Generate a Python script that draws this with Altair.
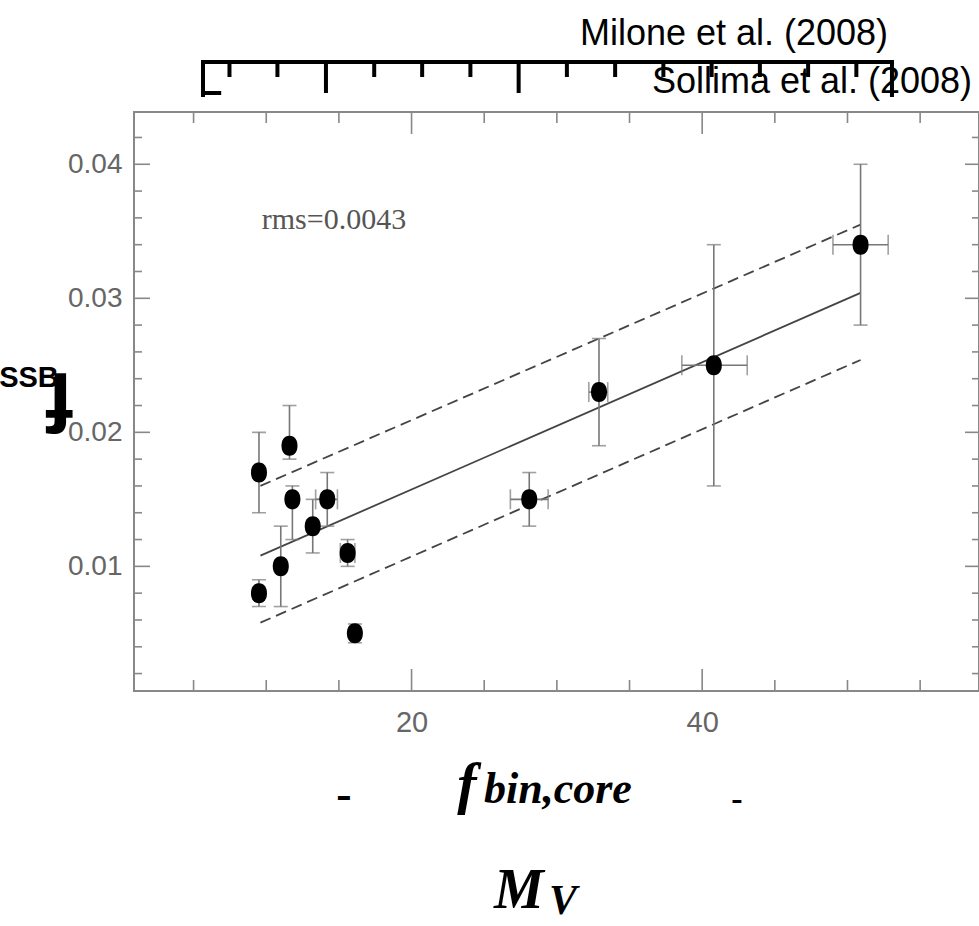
import altair as alt
import pandas as pd

# ---------------- data ----------------
x_vals = [9.5, 11.6, 11.8, 14.2, 13.2, 11.0, 9.5, 15.6, 16.1, 28.1, 32.9, 40.8, 50.9]
y_vals = [0.017, 0.019, 0.015, 0.015, 0.013, 0.010, 0.008, 0.011, 0.005, 0.015, 0.023, 0.025, 0.034]
y_lo = [0.014, 0.018, 0.012, 0.013, 0.011, 0.007, 0.007, 0.010, 0.0043, 0.013, 0.019, 0.016, 0.028]
y_hi = [0.020, 0.022, 0.016, 0.017, 0.015, 0.013, 0.009, 0.012, 0.0057, 0.017, 0.027, 0.034, 0.040]
x_lo = [9.5, 11.6, 11.8, 13.4, 13.2, 11.0, 9.5, 15.1, 16.1, 26.8, 32.2, 38.6, 49.0]
x_hi = [9.5, 11.6, 11.8, 14.9, 13.2, 11.0, 9.5, 16.1, 16.1, 29.4, 33.5, 43.1, 52.8]

fit_x = [9.6, 50.9]
fit_mid = [0.0108, 0.0304]
fit_up = [0.0160, 0.0355]
fit_low = [0.0058, 0.0254]

x_major = [20, 40]
x_minor = [5, 10, 15, 25, 30, 35, 45, 50, 55]
y_major = [0.01, 0.02, 0.03, 0.04]
y_minor = [0.002, 0.004, 0.006, 0.008, 0.012, 0.014, 0.016, 0.018, 0.022, 0.024,
           0.026, 0.028, 0.032, 0.034, 0.036, 0.038, 0.042]

# decorative magnitude bracket above the plot (positions on the same horizontal scale)
bracket_ends = [5.65, 53.06]
bracket_short = [7.47, 10.77, 17.43, 20.73, 24.05, 30.69, 34.01, 37.33, 40.65,
                 43.97, 47.29, 50.61]
bracket_long = [14.11, 27.37]

rms_text = ["rms=0.0043"]
ref_top = ["Milone et al. (2008)"]
ref_bottom = ["Sollima et al. (2008)"]

W, H = 845, 579
XDOM = [0.9, 59.05]
YDOM = [0.0007, 0.0439]
LABEL_FONT = "Liberation Sans Narrow, Liberation Sans, Arial"
SERIF_BI = "Liberation Serif"

pts = pd.DataFrame({"x": x_vals, "y": y_vals, "ylo": y_lo, "yhi": y_hi,
                    "xlo": x_lo, "xhi": x_hi})
xerr = pts[pts["xlo"] != pts["xhi"]]

xs = alt.Scale(domain=XDOM, nice=False, zero=False)
ys = alt.Scale(domain=YDOM, nice=False, zero=False)

xax = alt.Axis(values=x_major, format="d", labelFont=LABEL_FONT, labelFontSize=29,
               labelColor="#666", ticks=False, domain=False, grid=False,
               title=None, labelPadding=17)
yax = alt.Axis(values=y_major, format=".2f", labelFont=LABEL_FONT, labelFontSize=28,
               labelColor="#666", ticks=False, domain=False, grid=False,
               title=None, labelPadding=12)

ERR = "#777"
base = alt.Chart(pts)

points = base.mark_point(
    shape="M0,-1C0.55,-1,0.8,-0.55,0.8,0C0.8,0.55,0.55,1,0,1C-0.55,1,-0.8,0.55,-0.8,0C-0.8,-0.55,-0.55,-1,0,-1Z",
    size=400, filled=True, color="black", opacity=1
).encode(x=alt.X("x:Q", scale=xs, axis=xax), y=alt.Y("y:Q", scale=ys, axis=yax))

ybar = base.mark_rule(color=ERR, strokeWidth=1.6).encode(
    x=alt.X("x:Q", scale=xs), y=alt.Y("ylo:Q", scale=ys), y2="yhi:Q")
ycap_lo = base.mark_tick(orient="horizontal", size=14, thickness=1.6, color=ERR).encode(
    x=alt.X("x:Q", scale=xs), y=alt.Y("ylo:Q", scale=ys))
ycap_hi = base.mark_tick(orient="horizontal", size=14, thickness=1.6, color=ERR).encode(
    x=alt.X("x:Q", scale=xs), y=alt.Y("yhi:Q", scale=ys))

xe = alt.Chart(xerr)
xbar = xe.mark_rule(color=ERR, strokeWidth=1.6).encode(
    x=alt.X("xlo:Q", scale=xs), x2="xhi:Q", y=alt.Y("y:Q", scale=ys))
xcap_lo = xe.mark_tick(orient="vertical", size=20, thickness=1.6, color=ERR).encode(
    x=alt.X("xlo:Q", scale=xs), y=alt.Y("y:Q", scale=ys))
xcap_hi = xe.mark_tick(orient="vertical", size=20, thickness=1.6, color=ERR).encode(
    x=alt.X("xhi:Q", scale=xs), y=alt.Y("y:Q", scale=ys))

def fitline(yvals, dash):
    df = pd.DataFrame({"x": fit_x, "y": yvals})
    kw = dict(color="#444", strokeWidth=1.8)
    if dash:
        kw["strokeDash"] = [11, 6]
    return alt.Chart(df).mark_line(**kw).encode(
        x=alt.X("x:Q", scale=xs), y=alt.Y("y:Q", scale=ys))

mid = fitline(fit_mid, False)
up = fitline(fit_up, True)
low = fitline(fit_low, True)

# inward ticks on all four sides
TC = "#888"
def ytick(vals, length, right):
    df = pd.DataFrame({"v": vals})
    if right:
        enc = dict(x=alt.value(W), x2=alt.value(W - length))
    else:
        enc = dict(x=alt.value(0), x2=alt.value(length))
    return alt.Chart(df).mark_rule(color=TC, strokeWidth=1.6).encode(
        y=alt.Y("v:Q", scale=ys), **enc)

def xtick(vals, length, top):
    df = pd.DataFrame({"v": vals})
    if top:
        enc = dict(y=alt.value(0), y2=alt.value(length))
    else:
        enc = dict(y=alt.value(H), y2=alt.value(H - length))
    return alt.Chart(df).mark_rule(color=TC, strokeWidth=1.6).encode(
        x=alt.X("v:Q", scale=xs), **enc)

ticks = [ytick(y_major, 16, False), ytick(y_minor, 8, False),
         ytick(y_major, 14, True), ytick(y_minor, 7, True),
         xtick(x_major, 22, False), xtick(x_minor, 11, False),
         xtick(x_major, 22, True), xtick(x_minor, 11, True)]

# bracket above the plot
BY = -50
bar = alt.Chart(pd.DataFrame({"a": [bracket_ends[0]], "b": [bracket_ends[1]]})).mark_rule(
    color="black", strokeWidth=4, strokeCap="square").encode(
    x=alt.X("a:Q", scale=xs), x2="b:Q", y=alt.value(BY))
def btick(vals, length):
    return alt.Chart(pd.DataFrame({"v": vals})).mark_rule(color="black", strokeWidth=4).encode(
        x=alt.X("v:Q", scale=xs), y=alt.value(BY), y2=alt.value(BY + length))
b_short = btick(bracket_short, 15)
b_long = btick(bracket_long, 31)
b_ends = btick(bracket_ends, 35)
foot = alt.Chart(pd.DataFrame({"a": [bracket_ends[0]], "b": [6.9]})).mark_rule(
    color="black", strokeWidth=4).encode(x=alt.X("a:Q", scale=xs), x2="b:Q", y=alt.value(BY + 31))

def label(text, x, y, **kw):
    return alt.Chart(pd.DataFrame({"t": text})).mark_text(**kw).encode(
        x=alt.value(x), y=alt.value(y), text="t:N")

t_rms = label(rms_text, 200, 108, font="Liberation Serif", fontSize=30, color="#555",
              align="center", baseline="middle")
t_mil = label(ref_top, 600, -78, font="Liberation Sans, Arial", fontSize=36, color="black",
              align="center", baseline="middle")
t_sol = label(ref_bottom, 678, -30, font="Liberation Sans, Arial", fontSize=36, color="black",
              align="center", baseline="middle")

t_ssb = label(["SSB"], -105, 275, font=LABEL_FONT, fontSize=29, fontWeight="bold",
              color="black", align="center", baseline="alphabetic")
t_f = label(["f"], -74, 286, font=LABEL_FONT, fontSize=84, fontWeight="bold",
            color="black", align="center", baseline="middle", angle=180)

t_fx = label(["f"], 333, 691, font=SERIF_BI, fontSize=58, fontWeight="bold",
             fontStyle="italic", color="black", align="center", baseline="alphabetic")
t_bin = label(["bin,core"], 350, 691, font=SERIF_BI, fontSize=44, fontWeight="bold",
              fontStyle="italic", color="black", align="left", baseline="alphabetic")
t_d1 = label(["-"], 210, 697, font=SERIF_BI, fontSize=46, fontWeight="bold",
             color="black", align="center", baseline="alphabetic")
t_d2 = label(["-"], 603, 698, font=SERIF_BI, fontSize=34, fontWeight="bold",
             color="black", align="center", baseline="alphabetic")
t_m = label(["M"], 385, 796, font=SERIF_BI, fontSize=56, fontWeight="bold",
            fontStyle="italic", color="black", align="center", baseline="alphabetic")
t_v = label(["V"], 429, 802, font=SERIF_BI, fontSize=42, fontWeight="bold",
            fontStyle="italic", color="black", align="center", baseline="alphabetic")

chart = alt.layer(
    *ticks, low, up, mid, ybar, ycap_lo, ycap_hi, xbar, xcap_lo, xcap_hi, points,
    bar, b_short, b_long, b_ends, foot,
    t_rms, t_mil, t_sol, t_ssb, t_f, t_fx, t_bin, t_d1, t_d2, t_m, t_v
).properties(
    width=W, height=H,
    autosize=alt.AutoSizeParams(type="none"),
    padding={"left": 134, "top": 112, "right": 0, "bottom": 235},
    background="white",
).configure_view(stroke="#888", strokeWidth=2)

chart.save("out.html", embed_options={"renderer": "svg", "actions": False})
